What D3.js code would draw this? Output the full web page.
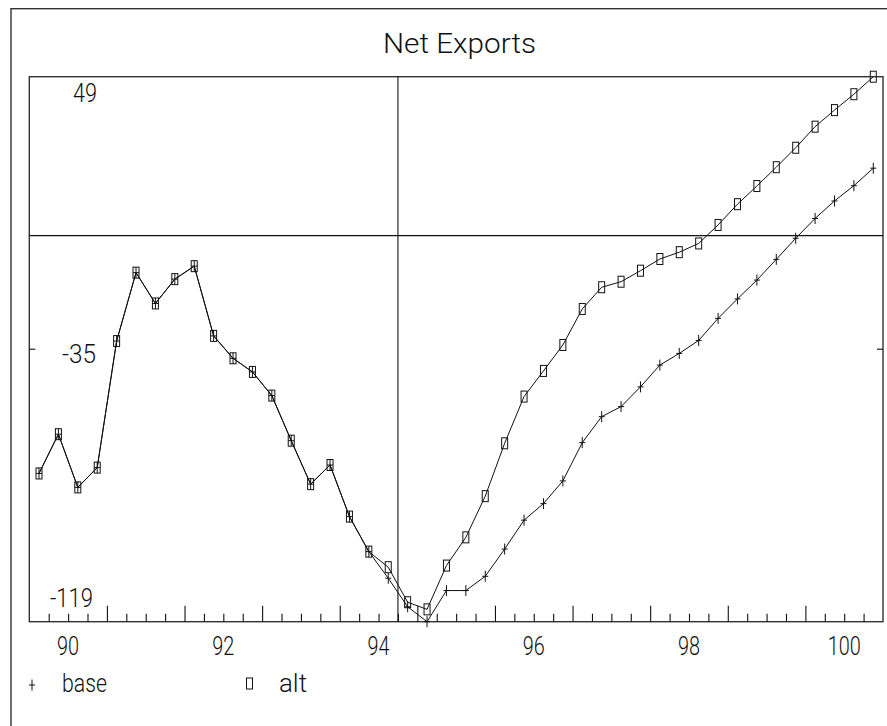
<!DOCTYPE html>
<html>
<head>
<meta charset="utf-8">
<script src="https://cdn.jsdelivr.net/npm/d3@7"></script>
<style>
  html, body { margin: 0; padding: 0; background: #fff; }
  svg { display: block; }
  text { font-family: Roboto, "Open Sans", Lato, "Liberation Sans", sans-serif; font-weight: 300; fill: #111; }
</style>
</head>
<body>
<svg id="chart" width="887" height="726"></svg>
<script>
// Quarterly periods, 1990Q1 .. 2000Q4
const startYear = 1990;
const endYear = 2001;
const periods = d3.range(44).map(i => startYear + i / 4);

// Net exports, alternative scenario
const altValues = [
  -73.3, -61.2, -77.6, -71.5, -32.5, -11.4, -20.9, -13.4, -9.4, -30.9, -37.8,
  -42.0, -49.3, -63.2, -76.6, -70.7, -86.6, -97.4, -102.2, -113.0, -115.2,
  -101.7, -93.0, -80.3, -64.0, -49.6, -41.7, -33.7, -22.6, -15.9, -14.2,
  -10.8, -7.2, -5.1, -2.4, 3.3, 9.7, 15.3, 21.1, 27.1, 33.6, 38.7, 43.6, 49.0
];

// Net exports, base scenario
const baseValues = [
  -73.3, -61.2, -77.6, -71.5, -32.5, -11.4, -20.9, -13.4, -9.4, -30.9, -37.8,
  -42.0, -49.3, -63.2, -76.6, -70.7, -86.6, -97.4, -105.6, -114.4, -119.0,
  -109.4, -109.4, -105.0, -96.6, -87.7, -82.6, -75.6, -63.8, -55.8, -52.7,
  -46.6, -39.9, -36.3, -32.3, -25.5, -19.5, -13.7, -7.3, -0.8, 5.3, 10.7,
  15.4, 20.8
];

// Axis labels
const xLabelYears = [1990, 1992, 1994, 1996, 1998, 2000];
const yLabels = [49, -35, -119];
const forecastStart = 1994.75;
const title = "Net Exports";
const legendItems = [
  { key: "base", label: "base" },
  { key: "alt", label: "alt" }
];

const svg = d3.select("#chart");
const plot = { left: 29.3, right: 883, top: 76.7, bottom: 621.7 };
const ink = "#111";
const frameInk = "#333";

const x = d3.scaleLinear().domain([startYear, endYear]).range([plot.left, plot.right]);
const y = d3.scaleLinear().domain([d3.min(yLabels), d3.max(yLabels)]).range([plot.bottom, plot.top]);

// Outer page frame
svg.append("rect")
  .attr("x", 11).attr("y", 8.7).attr("width", 920).attr("height", 740)
  .attr("fill", "none").attr("stroke", frameInk).attr("stroke-width", 1.4);

// Title
svg.append("text")
  .attr("x", 459.5).attr("y", 53)
  .attr("text-anchor", "middle")
  .attr("font-size", 28)
  .attr("textLength", 153).attr("lengthAdjust", "spacingAndGlyphs")
  .text(title);

// Plot frame
svg.append("rect")
  .attr("x", plot.left).attr("y", plot.top)
  .attr("width", plot.right - plot.left).attr("height", plot.bottom - plot.top)
  .attr("fill", "none").attr("stroke", frameInk).attr("stroke-width", 1.4);

// Zero line and forecast divider
svg.append("line")
  .attr("x1", plot.left).attr("x2", plot.right)
  .attr("y1", y(0)).attr("y2", y(0))
  .attr("stroke", ink).attr("stroke-width", 1.1);
svg.append("line")
  .attr("x1", x(forecastStart)).attr("x2", x(forecastStart))
  .attr("y1", plot.top).attr("y2", plot.bottom)
  .attr("stroke", ink).attr("stroke-width", 1.1);

// Quarter ticks along the bottom axis (pointing inward); longer at year starts
const quarterTicks = d3.range(1, 44).map(i => startYear + i / 4);
const bottomAxis = d3.axisBottom(x)
  .tickValues(quarterTicks)
  .tickSizeInner(0).tickSizeOuter(0)
  .tickFormat("");
const gx = svg.append("g")
  .attr("transform", `translate(0,${plot.bottom})`)
  .call(bottomAxis);
gx.select(".domain").remove();
gx.selectAll(".tick line")
  .attr("y2", d => Math.abs(d - Math.round(d)) < 1e-9 ? -16 : -8)
  .attr("stroke", ink).attr("stroke-width", 1.1);

// Year labels, centred on the year
const labelWidths = { 2: 22, 3: 33 };
svg.append("g").selectAll("text")
  .data(xLabelYears)
  .join("text")
  .attr("x", d => x(d + 0.5))
  .attr("y", 655)
  .attr("text-anchor", "middle")
  .attr("font-size", 25)
  .attr("textLength", d => labelWidths[String(d - 1900).length])
  .attr("lengthAdjust", "spacingAndGlyphs")
  .text(d => String(d - 1900));

// Y ticks at the midpoint value, both sides
const yMid = yLabels[1];
[[plot.left, 6], [plot.right, -6]].forEach(([x0, len]) => {
  svg.append("line")
    .attr("x1", x0).attr("x2", x0 + len)
    .attr("y1", y(yMid)).attr("y2", y(yMid))
    .attr("stroke", ink).attr("stroke-width", 1.1);
});

// Y labels, drawn inside the frame
const yLabelPos = [
  { v: yLabels[0], x: 73, dy: 102 - y(yLabels[0]), w: 24 },
  { v: yLabels[1], x: 62, dy: 363 - y(yLabels[1]), w: 34 },
  { v: yLabels[2], x: 50, dy: 606.5 - y(yLabels[2]), w: 43 }
];
svg.append("g").selectAll("text")
  .data(yLabelPos)
  .join("text")
  .attr("x", d => d.x)
  .attr("y", d => y(d.v) + d.dy)
  .attr("font-size", 25)
  .attr("textLength", d => d.w).attr("lengthAdjust", "spacingAndGlyphs")
  .text(d => String(d.v));

// Series lines
const pointX = (d, i) => x(periods[i] + 0.125);
const line = d3.line().x((d, i) => pointX(d, i)).y(d => y(d));
svg.append("path").datum(altValues)
  .attr("d", line).attr("fill", "none").attr("stroke", ink).attr("stroke-width", 1);
svg.append("path").datum(baseValues)
  .attr("d", line).attr("fill", "none").attr("stroke", ink).attr("stroke-width", 1);

// Markers
const boxW = 6, boxH = 11;
function drawBox(g, cx, cy) {
  g.append("rect")
    .attr("x", cx - boxW / 2).attr("y", cy - boxH / 2)
    .attr("width", boxW).attr("height", boxH)
    .attr("fill", "none").attr("stroke", ink).attr("stroke-width", 1);
}
function drawPlus(g, cx, cy) {
  g.append("path")
    .attr("d", `M${cx},${cy - 5.5}V${cy + 5.5}M${cx - 3},${cy}H${cx + 3}`)
    .attr("fill", "none").attr("stroke", ink).attr("stroke-width", 1);
}
const markers = svg.append("g");
altValues.forEach((v, i) => drawBox(markers, pointX(v, i), y(v)));
baseValues.forEach((v, i) => drawPlus(markers, pointX(v, i), y(v)));

// Legend
const legendY = 692;
drawPlus(svg, 32, 685);
svg.append("text").attr("x", 62).attr("y", legendY).attr("font-size", 25)
  .attr("textLength", 45).attr("lengthAdjust", "spacingAndGlyphs")
  .text(legendItems[0].label);
drawBox(svg, 249.5, 683.5);
svg.append("text").attr("x", 279).attr("y", legendY).attr("font-size", 25)
  .attr("textLength", 28).attr("lengthAdjust", "spacingAndGlyphs")
  .text(legendItems[1].label);
</script>
</body>
</html>
